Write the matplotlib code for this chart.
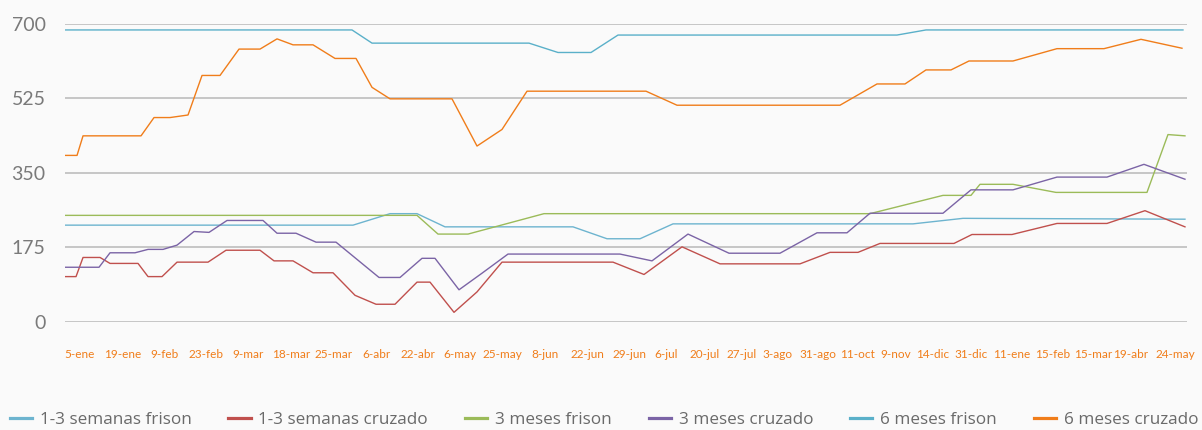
import matplotlib
matplotlib.use("Agg")
import matplotlib.pyplot as plt

plt.rcParams["font.family"] = ["Lato", "DejaVu Sans"]

# x en unidades del eje (semanas del periodo, posición relativa)
tick_pos = [1.45, 5.75, 9.9, 14.1, 18.35, 22.6, 26.9, 31.1, 35.3, 39.45, 43.7, 47.95,
            52.2, 56.45, 60.15, 63.95, 67.65, 71.25, 75.3, 79.2, 83.1, 86.75, 90.65,
            94.65, 98.75, 102.8, 106.55, 111.0]
tick_labels = ["5-ene", "19-ene", "9-feb", "23-feb", "9-mar", "18-mar", "25-mar", "6-abr",
               "22-abr", "6-may", "25-may", "8-jun", "22-jun", "29-jun", "6-jul", "20-jul",
               "27-jul", "3-ago", "31-ago", "11-oct", "9-nov", "14-dic", "31-dic", "11-ene",
               "15-feb", "15-mar", "19-abr", "24-may"]

x_sem_fri = [0, 28.8, 32.5, 35.2, 38.0, 50.8, 54.2, 57.5, 60.8, 84.8, 89.8, 112.0]
y_sem_fri = [227, 227, 254, 254, 223, 223, 195, 195, 230, 230, 243, 241]

x_sem_cru = [0, 1.1, 1.8, 3.5, 4.5, 7.3, 8.3, 9.7, 11.2, 14.3, 16.1, 19.5, 20.9, 22.8,
             24.8, 26.8, 29.0, 31.1, 33.0, 35.2, 36.5, 38.9, 41.2, 43.7, 54.8, 57.9,
             61.7, 65.5, 73.5, 76.5, 79.3, 81.5, 88.9, 90.7, 94.7, 99.2, 104.2, 108.0, 112.0]
y_sem_cru = [106, 106, 151, 151, 137, 137, 106, 106, 140, 140, 168, 168, 143, 143,
             115, 115, 62, 41, 41, 93, 93, 22, 70, 140, 140, 111,
             176, 136, 136, 163, 163, 184, 184, 205, 205, 231, 231, 261, 223]

x_3m_fri = [0, 35.2, 37.3, 40.3, 47.9, 80.5, 87.8, 90.6, 91.5, 94.8, 99.1, 108.2, 110.3, 112.0]
y_3m_fri = [250, 250, 206, 206, 254, 254, 297, 297, 323, 323, 304, 304, 440, 437]

x_3m_cru = [0, 3.4, 4.5, 7.0, 8.3, 9.8, 11.2, 12.9, 14.4, 16.2, 19.8, 21.2, 23.1, 25.1,
            27.1, 31.4, 33.5, 35.7, 37.0, 39.4, 41.7, 44.3, 55.5, 58.7, 62.3, 66.4,
            71.5, 75.2, 78.2, 80.5, 87.8, 90.6, 94.8, 99.2, 104.2, 107.9, 112.0]
y_3m_cru = [128, 128, 162, 162, 170, 170, 180, 212, 210, 238, 238, 208, 208, 187,
            187, 104, 104, 149, 149, 75, 114, 159, 159, 143, 206, 161,
            161, 209, 209, 255, 255, 310, 310, 340, 340, 370, 335]

x_6m_fri = [0, 28.7, 30.7, 46.4, 49.3, 52.6, 55.3, 83.2, 86.1, 111.8]
y_6m_fri = [686, 686, 655, 655, 633, 633, 674, 674, 686, 686]

x_6m_cru = [0, 1.2, 1.8, 7.6, 8.9, 10.5, 12.3, 13.7, 15.5, 17.4, 19.5, 21.2, 22.8, 24.8,
            27.0, 29.1, 30.7, 32.5, 38.7, 41.2, 43.7, 46.2, 58.1, 61.2, 77.5, 81.2,
            84.0, 86.1, 88.6, 90.4, 94.8, 99.2, 103.9, 107.6, 111.7]
y_6m_cru = [391, 391, 437, 437, 480, 480, 486, 579, 579, 641, 641, 665, 651, 651,
            619, 619, 551, 524, 524, 413, 452, 542, 542, 509, 509, 559,
            559, 592, 592, 613, 613, 642, 642, 664, 643]

series = [
    ("1-3 semanas frison", x_sem_fri, y_sem_fri, "#6db4cf"),
    ("1-3 semanas cruzado", x_sem_cru, y_sem_cru, "#c0504d"),
    ("3 meses frison", x_3m_fri, y_3m_fri, "#9bbb59"),
    ("3 meses cruzado", x_3m_cru, y_3m_cru, "#7b64a6"),
    ("6 meses frison", x_6m_fri, y_6m_fri, "#5ab0c9"),
    ("6 meses cruzado", x_6m_cru, y_6m_cru, "#f07d1a"),
]

bg = "#fafafa"
fig = plt.figure(figsize=(12.02, 4.30), dpi=100, facecolor=bg)
ax = fig.add_axes([0.0541, 0.2519, 0.9334, 0.6923])
ax.set_facecolor(bg)

for name, xs, ys, c in series:
    ax.plot(xs, ys, color=c, lw=1.0, label=name)

ax.set_xlim(0, 112.2)
ax.set_ylim(0, 700)
ax.set_yticks([0, 175, 350, 525, 700])
ax.yaxis.grid(True, color="#bdbdbd", lw=1.2)
ax.set_axisbelow(True)
for s in ax.spines.values():
    s.set_visible(False)
ax.tick_params(axis="y", length=0, pad=14, labelsize=14, labelcolor="#7a7a7a")
ax.set_xticks(tick_pos)
ax.set_xticklabels(tick_labels)
ax.tick_params(axis="x", length=0, pad=20, labelsize=8.5, labelcolor="#f07d1a")

leg = fig.legend(loc="center left", bbox_to_anchor=(0.008, 0.023), ncol=6,
                 frameon=False, handlelength=1.3, handletextpad=0.45,
                 columnspacing=2.15, borderpad=0, borderaxespad=0,
                 labelcolor="#6a6a6a",
                 prop={"family": ["Open Sans", "DejaVu Sans"], "size": 12.36})
for h in leg.get_lines():
    h.set_linewidth(2.3)

fig.savefig("out.png", dpi=100, facecolor=bg)
